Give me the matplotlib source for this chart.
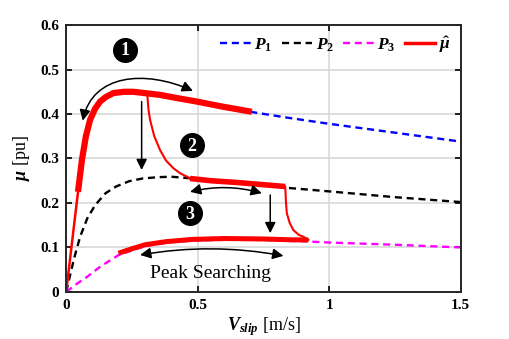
import numpy as np
import matplotlib.pyplot as plt
from matplotlib.patches import FancyArrowPatch
from matplotlib.path import Path
from matplotlib.lines import Line2D

plt.rcParams['font.family'] = 'serif'
plt.rcParams['font.serif'] = ['Liberation Serif', 'DejaVu Serif']
plt.rcParams['mathtext.fontset'] = 'custom'
plt.rcParams['mathtext.it'] = 'Liberation Serif:italic:bold'
plt.rcParams['mathtext.rm'] = 'Liberation Serif:bold'
plt.rcParams['mathtext.bf'] = 'Liberation Serif:bold'

# friction curves
p1_x = [0.70, 0.85, 1.00, 1.15, 1.30, 1.50]
p1_y = [0.405, 0.391, 0.378, 0.366, 0.354, 0.338]

p2_x = [0, 0.01, 0.03, 0.053, 0.08, 0.11, 0.15, 0.19, 0.24, 0.29, 0.35, 0.40, 0.46,
        0.60, 0.70, 0.84, 1.00, 1.25, 1.50]
p2_y = [0, 0.025, 0.075, 0.124, 0.165, 0.195, 0.222, 0.237, 0.249, 0.255, 0.258, 0.259, 0.256,
        0.249, 0.243, 0.234, 0.226, 0.213, 0.202]

p3_x = [0, 0.04, 0.08, 0.13, 0.20, 0.30, 0.40, 0.50, 0.60, 0.70, 0.80, 0.93, 1.00, 1.25, 1.50]
p3_y = [0, 0.018, 0.034, 0.057, 0.083, 0.103, 0.112, 0.116, 0.117, 0.117, 0.116, 0.113, 0.111, 0.106, 0.100]

# estimated friction (mu hat)
mu_start_x = [0, 0.02, 0.04, 0.06]
mu_start_y = [0, 0.10, 0.20, 0.297]
mu_main_x = [0.045, 0.06, 0.075, 0.091, 0.11, 0.129, 0.15, 0.179, 0.22, 0.255, 0.30, 0.357, 0.42, 0.497, 0.60, 0.706]
mu_main_y = [0.225, 0.297, 0.35, 0.387, 0.412, 0.428, 0.438, 0.447, 0.45, 0.45, 0.447, 0.443, 0.436, 0.428, 0.416, 0.405]
mu_drop1_x = [0.309, 0.313, 0.319, 0.335, 0.357, 0.38, 0.408, 0.435, 0.46, 0.471]
mu_drop1_y = [0.44, 0.41, 0.387, 0.35, 0.319, 0.295, 0.278, 0.266, 0.259, 0.255]
mu_mid_x = [0.471, 0.55, 0.65, 0.75, 0.833]
mu_mid_y = [0.255, 0.25, 0.246, 0.241, 0.237]
mu_drop2_x = [0.833, 0.836, 0.839, 0.85, 0.864, 0.885, 0.902, 0.921]
mu_drop2_y = [0.237, 0.20, 0.177, 0.155, 0.139, 0.128, 0.124, 0.117]
mu_low_x = [0.199, 0.25, 0.30, 0.38, 0.48, 0.60, 0.75, 0.86, 0.921]
mu_low_y = [0.087, 0.097, 0.106, 0.113, 0.118, 0.12, 0.119, 0.117, 0.117]

# curved arrow over the peak (cubic bezier: start, 2 controls, end)
arc_x = [0.063, 0.10, 0.30, 0.482]
arc_y = [0.385, 0.49, 0.50, 0.452]

fig = plt.figure(figsize=(5.09, 3.39), dpi=100)
ax = fig.add_axes([0.130, 0.139, 0.775, 0.787])

ax.plot(p1_x, p1_y, color='blue', lw=1.7, dashes=(3, 2))
ax.plot(p2_x, p2_y, color='black', lw=1.7, dashes=(3, 2))
ax.plot(p3_x, p3_y, color='magenta', lw=1.7, dashes=(3, 2))

red = '#ff0000'
ax.plot(mu_start_x, mu_start_y, color=red, lw=1.8)
ax.plot(mu_main_x, mu_main_y, color=red, lw=4.5, solid_capstyle='butt')
ax.plot(mu_drop1_x, mu_drop1_y, color=red, lw=1.5)
ax.plot(mu_mid_x, mu_mid_y, color=red, lw=4, solid_capstyle='butt')
ax.plot(mu_drop2_x, mu_drop2_y, color=red, lw=1.5)
ax.plot(mu_low_x, mu_low_y, color=red, lw=3.6, solid_capstyle='butt')

# arrows
aprops = dict(arrowstyle='<|-|>', color='black', lw=1.1, shrinkA=0, shrinkB=0,
              mutation_scale=16)
arc = FancyArrowPatch(path=Path(list(zip(arc_x, arc_y)),
                                [Path.MOVETO, Path.CURVE4, Path.CURVE4, Path.CURVE4]),
                      arrowstyle='<|-|>', color='black', lw=1.1, mutation_scale=16,
                      transform=ax.transData)
ax.add_patch(arc)
ax.annotate('', xy=(0.744, 0.222), xytext=(0.471, 0.225),
            arrowprops=dict(aprops, connectionstyle='arc3,rad=-0.13'))
ax.annotate('', xy=(0.826, 0.081), xytext=(0.281, 0.083),
            arrowprops=dict(aprops, connectionstyle='arc3,rad=-0.09'))
dprops = dict(aprops, arrowstyle='-|>')
ax.annotate('', xy=(0.287, 0.274), xytext=(0.287, 0.428), arrowprops=dprops)
ax.annotate('', xy=(0.776, 0.132), xytext=(0.776, 0.218), arrowprops=dprops)

# numbered markers
num_x = [0.224, 0.478, 0.471]
num_y = [0.544, 0.330, 0.177]
num_txt = ['1', '2', '3']
ax.plot(num_x, num_y, 'o', color='black', ms=17)
for x, y, t in zip(num_x, num_y, num_txt):
    ax.text(x, y - 0.002, t, color='white', fontsize=13, fontweight='bold', ha='center', va='center')

ax.text(0.548, 0.042, 'Peak Searching', fontsize=14, ha='center', va='center')

ax.set_xlim(0, 1.5)
ax.set_ylim(0, 0.6)
ax.set_xticks([0, 0.5, 1, 1.5])
ax.set_xticklabels(['0', '0.5', '1', '1.5'])
ax.set_yticks([0, 0.1, 0.2, 0.3, 0.4, 0.5, 0.6])
ax.set_yticklabels(['0', '0.1', '0.2', '0.3', '0.4', '0.5', '0.6'])
for lab in ax.get_xticklabels() + ax.get_yticklabels():
    lab.set_fontweight('bold')
ax.tick_params(direction='in', top=True, right=True, labelsize=11, length=4, width=1.2, pad=5)
ax.grid(True, color='#d9d9d9', lw=1.2)
ax.set_axisbelow(True)
for s in ax.spines.values():
    s.set_linewidth(1.4)
    s.set_color('#262626')

ax.set_xlabel(r'$V_{slip}$ [m/s]', fontsize=13, labelpad=2)
ax.set_ylabel(r'$\mu$ [pu]', fontsize=13, labelpad=6)

handles = [Line2D([], [], color='blue', lw=1.7, dashes=(3, 2)),
           Line2D([], [], color='black', lw=1.7, dashes=(3, 2)),
           Line2D([], [], color='magenta', lw=1.7, dashes=(3, 2)),
           Line2D([], [], color=red, lw=2.5)]
labels = [r'$P_1$', r'$P_2$', r'$P_3$', r'$\hat{\mu}$']
ax.legend(handles, labels, ncol=4, loc='center right', bbox_to_anchor=(0.975, 0.925),
          frameon=False, fontsize=12.5, handlelength=1.75, handletextpad=0.2,
          columnspacing=0.55, borderpad=0, borderaxespad=0)

fig.savefig('out.png', dpi=100)
